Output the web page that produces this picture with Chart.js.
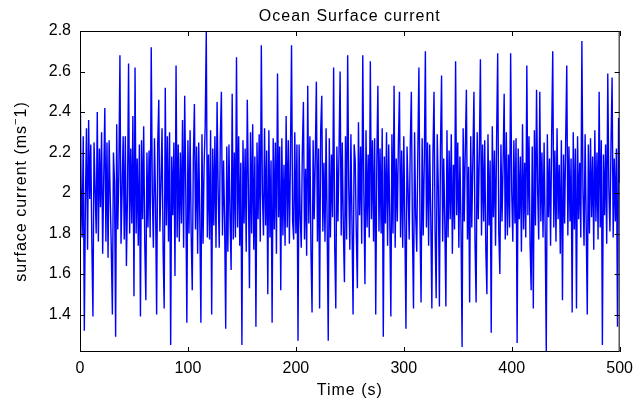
<!DOCTYPE html>
<html>
<head>
<meta charset="utf-8">
<script src="https://cdn.jsdelivr.net/npm/chart.js@4"></script>
<style>
  html, body { margin: 0; padding: 0; background: #fff; }
</style>
</head>
<body>
<canvas id="c" width="640" height="412"></canvas>
<script>
// surface current, one sample per second (t = 0 .. 500 s)
const current = [
  2.61, 2.05, 1.78, 2.28, 1.32, 1.95, 2.32, 1.72, 2.36, 1.97,
  2.24, 1.74, 1.39, 2.25, 2.02, 1.80, 2.40, 1.76, 2.22, 1.93,
  2.30, 1.70, 2.08, 2.42, 1.76, 2.25, 1.68, 2.26, 1.98, 1.72,
  1.40, 2.20, 2.05, 1.29, 2.34, 1.82, 2.10, 2.68, 1.75, 2.02,
  2.28, 1.77, 2.28, 1.64, 1.99, 2.64, 1.80, 2.22, 1.85, 2.38,
  1.49, 2.62, 1.80, 2.17, 1.74, 2.24, 1.39, 2.26, 1.87, 2.33,
  1.75, 1.47, 2.20, 1.83, 2.21, 1.78, 2.72, 2.00, 1.73, 2.27,
  1.96, 1.40, 2.24, 2.46, 1.81, 2.05, 2.32, 1.72, 1.43, 2.52,
  1.84, 2.28, 1.76, 2.30, 1.25, 2.18, 1.89, 2.25, 1.59, 2.63,
  1.78, 2.24, 1.76, 2.20, 1.85, 2.36, 1.73, 2.48, 2.02, 1.36,
  2.26, 1.80, 2.31, 1.80, 1.52, 2.17, 2.44, 1.82, 2.23, 1.70,
  2.25, 1.87, 1.36, 2.29, 1.75, 2.14, 2.33, 2.80, 1.78, 2.19,
  1.77, 2.31, 1.40, 2.22, 1.84, 2.28, 1.73, 2.45, 2.01, 1.73,
  2.27, 2.50, 1.79, 2.16, 1.86, 1.33, 2.23, 1.71, 2.24, 1.89,
  1.62, 2.49, 1.77, 2.20, 1.78, 2.67, 1.83, 2.28, 1.74, 2.15,
  1.25, 2.26, 1.85, 2.22, 1.71, 2.46, 2.03, 1.53, 2.30, 1.80,
  2.34, 1.72, 2.18, 1.34, 2.25, 1.87, 2.29, 1.76, 2.73, 2.00,
  1.79, 2.32, 1.84, 2.21, 1.50, 2.31, 1.78, 2.16, 1.36, 2.27,
  1.82, 2.25, 1.70, 2.59, 1.88, 2.23, 1.52, 2.27, 1.79, 2.14,
  1.74, 2.38, 1.83, 2.26, 1.75, 2.19, 2.73, 1.86, 1.77, 2.30,
  1.80, 2.24, 1.27, 2.24, 1.89, 1.73, 2.21, 2.45, 1.77, 2.12,
  1.69, 2.53, 1.85, 2.28, 1.71, 1.41, 2.26, 1.87, 2.18, 2.55,
  1.76, 2.22, 1.43, 2.31, 2.48, 1.81, 2.15, 1.76, 2.32, 1.84,
  1.27, 2.27, 1.78, 2.19, 1.88, 2.62, 1.74, 1.43, 2.23, 1.86,
  2.21, 2.60, 1.79, 2.25, 1.82, 1.56, 2.28, 1.77, 2.68, 2.03,
  1.72, 2.29, 1.85, 1.40, 2.24, 2.16, 1.80, 1.53, 2.35, 1.89,
  2.23, 1.75, 2.68, 2.00, 1.55, 2.31, 1.83, 2.19, 1.78, 2.65,
  1.87, 2.26, 1.76, 2.27, 1.40, 2.15, 2.53, 1.81, 2.22, 1.80,
  2.32, 1.29, 2.18, 1.85, 2.30, 1.74, 2.24, 1.88, 1.39, 2.29,
  1.80, 2.53, 1.73, 2.17, 1.86, 2.25, 2.50, 1.78, 2.21, 1.73,
  2.28, 1.84, 1.33, 2.23, 2.02, 1.77, 2.24, 2.50, 1.82, 1.43,
  2.30, 1.89, 1.71, 2.20, 2.62, 1.85, 1.46, 2.27, 1.79, 2.16,
  2.70, 1.83, 2.25, 1.74, 2.24, 1.88, 1.43, 2.19, 2.50, 1.81,
  1.48, 2.29, 2.02, 1.44, 2.23, 2.58, 1.76, 2.17, 1.85, 1.44,
  2.31, 1.78, 2.21, 1.87, 2.29, 1.70, 2.14, 1.82, 2.65, 1.89,
  2.25, 1.73, 2.18, 1.84, 1.24, 2.32, 1.86, 2.22, 2.51, 1.77,
  2.13, 1.46, 2.28, 1.83, 2.17, 2.50, 1.75, 1.46, 2.30, 1.87,
  2.20, 2.66, 1.79, 2.24, 1.86, 2.26, 1.72, 1.50, 2.29, 1.84,
  2.16, 1.31, 2.33, 1.88, 2.21, 1.74, 2.27, 2.69, 1.81, 1.60,
  2.24, 1.86, 2.15, 2.49, 1.77, 2.30, 1.79, 2.19, 1.83, 2.69,
  2.01, 1.76, 2.26, 1.85, 2.27, 1.26, 2.22, 1.87, 2.18, 1.71,
  2.34, 1.82, 2.15, 1.78, 2.63, 1.89, 2.28, 1.75, 1.52, 2.23,
  1.43, 2.31, 1.84, 2.51, 2.02, 1.77, 2.50, 1.86, 2.20, 1.78,
  2.25, 1.81, 1.22, 2.29, 1.88, 2.17, 1.74, 2.28, 2.70, 1.83,
  2.21, 1.76, 2.32, 1.87, 2.14, 1.70, 2.26, 1.47, 2.19, 1.85,
  2.26, 2.63, 1.79, 2.23, 1.86, 2.17, 1.41, 2.30, 1.82, 2.22,
  1.43, 2.28, 1.87, 2.15, 1.78, 2.75, 2.01, 1.74, 2.29, 1.85,
  1.40, 2.24, 1.80, 2.27, 1.88, 2.18, 1.72, 2.31, 1.86, 2.20,
  1.77, 2.50, 1.83, 2.26, 1.25, 2.19, 1.89, 2.24, 1.75, 2.59,
  2.02, 1.81, 2.25, 2.57, 1.78, 2.17, 1.86, 2.22, 1.34, 2.37,
  2.05
];
const xTicks = [0, 100, 200, 300, 400, 500];
const yTicks = [1.4, 1.6, 1.8, 2, 2.2, 2.4, 2.6, 2.8];
const titleText = 'Ocean Surface current';
const xLabel = 'Time (s)';
const yLabelParts = ['surface current (ms', '\u2212', '1)'];

const FONT = '"Liberation Sans", Arial, sans-serif';

// frame, inward ticks and labels, drawn the matlab way
const framePlugin = {
  id: 'frame',
  afterDraw(chart) {
    const { ctx, chartArea: a, scales } = chart;
    ctx.save();
    ctx.strokeStyle = '#000';
    ctx.lineWidth = 1;
    ctx.strokeRect(a.left + 0.5, a.top + 0.5, a.right - a.left - 1, a.bottom - a.top - 1);

    ctx.beginPath();
    yTicks.forEach(v => {
      const y = Math.round(scales.y.getPixelForValue(v)) + 0.5;
      ctx.moveTo(a.left, y); ctx.lineTo(a.left + 5, y);
      ctx.moveTo(a.right, y); ctx.lineTo(a.right - 5, y);
    });
    xTicks.forEach(v => {
      const x = Math.round(scales.x.getPixelForValue(v)) + 0.5;
      ctx.moveTo(x, a.bottom); ctx.lineTo(x, a.bottom - 5);
      ctx.moveTo(x, a.top); ctx.lineTo(x, a.top + 5);
    });
    ctx.stroke();

    const cx = (a.left + a.right) / 2;
    const cy = (a.top + a.bottom) / 2;
    ctx.fillStyle = '#000';
    ctx.textAlign = 'center';
    ctx.textBaseline = 'middle';
    ctx.letterSpacing = '1px';
    ctx.font = '16px ' + FONT;
    ctx.fillText(titleText, cx, 17);
    ctx.fillText(xLabel, cx, 391);

    // y label with raised minus
    ctx.translate(22, cy);
    ctx.rotate(-Math.PI / 2);
    ctx.textAlign = 'left';
    const big = '16px ' + FONT, small = '11px ' + FONT;
    ctx.font = big;
    const w1 = ctx.measureText(yLabelParts[0]).width;
    const w3 = ctx.measureText(yLabelParts[2]).width;
    ctx.font = small;
    const w2 = ctx.measureText(yLabelParts[1]).width;
    let x0 = -(w1 + w2 + w3) / 2;
    ctx.font = big;
    ctx.fillText(yLabelParts[0], x0, 0);
    ctx.font = small;
    ctx.fillText(yLabelParts[1], x0 + w1, -6);
    ctx.font = big;
    ctx.fillText(yLabelParts[2], x0 + w1 + w2, 0);
    ctx.restore();
  }
};

new Chart(document.getElementById('c'), {
  type: 'line',
  data: {
    datasets: [{
      data: current.map((v, i) => ({ x: i, y: v })),
      borderColor: '#0000ff',
      borderWidth: 1.4,
      pointRadius: 0,
      tension: 0,
      fill: false
    }]
  },
  options: {
    responsive: false,
    animation: false,
    layout: { padding: { top: 31, right: 14, left: 0, bottom: 0 } },
    plugins: {
      legend: { display: false },
      title: { display: false },
      tooltip: { enabled: false }
    },
    scales: {
      x: {
        type: 'linear',
        min: 0,
        max: 500,
        afterFit: s => { s.height = 60; },
        afterBuildTicks: s => { s.ticks = xTicks.map(v => ({ value: v })); },
        grid: { display: false, drawTicks: false },
        border: { display: false },
        ticks: { padding: 7, color: '#000', font: { family: FONT, size: 16 }, maxRotation: 0 }
      },
      y: {
        min: 1.215,
        max: 2.8,
        afterFit: s => { s.width = 80; },
        afterBuildTicks: s => { s.ticks = yTicks.map(v => ({ value: v })); },
        grid: { display: false, drawTicks: false },
        border: { display: false },
        ticks: { padding: 9, color: '#000', font: { family: FONT, size: 16 },
                 callback: v => String(Math.round(v * 10) / 10) }
      }
    }
  },
  plugins: [framePlugin]
});
</script>
</body>
</html>
